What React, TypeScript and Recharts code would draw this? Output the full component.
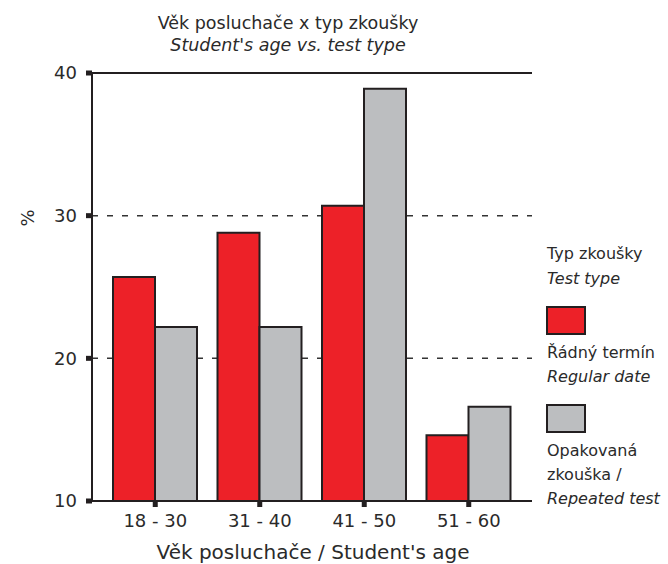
import React from 'react';
import { BarChart, Bar, XAxis, YAxis, CartesianGrid, ReferenceLine } from 'recharts';

const categories = ['18 - 30', '31 - 40', '41 - 50', '51 - 60'];
const regularDate = [25.7, 28.8, 30.7, 14.6];
const repeatedTest = [22.2, 22.2, 38.9, 16.6];
const yTicks = [10, 20, 30, 40];

const series = [
  { key: 'regular', color: '#ED2128', labels: [{ t: 'Řádný termín', i: false }, { t: 'Regular date', i: true }] },
  { key: 'repeated', color: '#BCBEC0', labels: [{ t: 'Opakovaná', i: false }, { t: 'zkouška /', i: false }, { t: 'Repeated test', i: true }] },
];

const data = categories.map((c, i) => ({ age: c, regular: regularDate[i], repeated: repeatedTest[i] }));

const FONT = '"DejaVu Sans", sans-serif';
const INK = '#231F20';
const TXT = '#2a2a2a';

export default function App() {
  return (
    <div style={{ position: 'absolute', left: 0, top: 0, width: 668, height: 564, background: '#fff', fontFamily: FONT }}>
      <BarChart
        width={668}
        height={564}
        data={data}
        margin={{ top: 73, right: 136, bottom: 23, left: 0 }}
        barGap={0}
        barSize={42}
      >
        <CartesianGrid yAxisId="left" vertical={false} stroke="#333" strokeWidth={1.5} strokeDasharray="6 9" />
        <XAxis
          dataKey="age"
          height={40}
          padding={{ left: 11, right: 11 }}
          axisLine={{ stroke: INK, strokeWidth: 2 }}
          tickLine={{ stroke: INK, strokeWidth: 5 }}
          tickSize={6}
          tickMargin={7}
          tick={{ fill: TXT, fontSize: 18, fontFamily: FONT }}
        />
        <YAxis
          yAxisId="left"
          width={92}
          domain={[10, 40]}
          ticks={yTicks}
          axisLine={{ stroke: INK, strokeWidth: 2 }}
          tickLine={{ stroke: INK, strokeWidth: 5 }}
          tickSize={6}
          tickMargin={9}
          tick={{ fill: TXT, fontSize: 18, fontFamily: FONT }}
        />
        <YAxis
          yAxisId="right"
          orientation="right"
          width={0}
          domain={[10, 40]}
          ticks={yTicks}
          tick={false}
          tickLine={false}
          axisLine={{ stroke: INK, strokeWidth: 2 }}
        />
        <ReferenceLine yAxisId="left" y={40} stroke={INK} strokeWidth={2} />
        {series.map((s) => (
          <Bar key={s.key} yAxisId="left" dataKey={s.key} fill={s.color} stroke={INK} strokeWidth={2} isAnimationActive={false} />
        ))}
      </BarChart>
      <svg width={668} height={564} style={{ position: 'absolute', left: 0, top: 0, pointerEvents: 'none' }}>
        <g fontFamily={FONT} fill={TXT}>
          <text x={288} y={29} fontSize={17.5} textAnchor="middle">Věk posluchače x typ zkoušky</text>
          <text x={288} y={51} fontSize={17.5} textAnchor="middle" fontStyle="italic">Student's age vs. test type</text>
          <text x={313} y={559} fontSize={20} textAnchor="middle">Věk posluchače / Student's age</text>
          <text x={0} y={0} fontSize={18} textAnchor="middle" transform="translate(34 218) rotate(-90)">%</text>
          <text x={547} y={259} fontSize={16}>Typ zkoušky</text>
          <text x={547} y={284} fontSize={16} fontStyle="italic">Test type</text>
          {series.map((s, si) => {
            const top = si === 0 ? 307 : 405;
            return (
              <g key={s.key}>
                <rect x={547} y={top} width={38} height={27} fill={s.color} stroke={INK} strokeWidth={2} />
                {s.labels.map((l, li) => (
                  <text key={li} x={547} y={top + 51 + li * 24} fontSize={16} fontStyle={l.i ? 'italic' : 'normal'}>{l.t}</text>
                ))}
              </g>
            );
          })}
        </g>
      </svg>
    </div>
  );
}
